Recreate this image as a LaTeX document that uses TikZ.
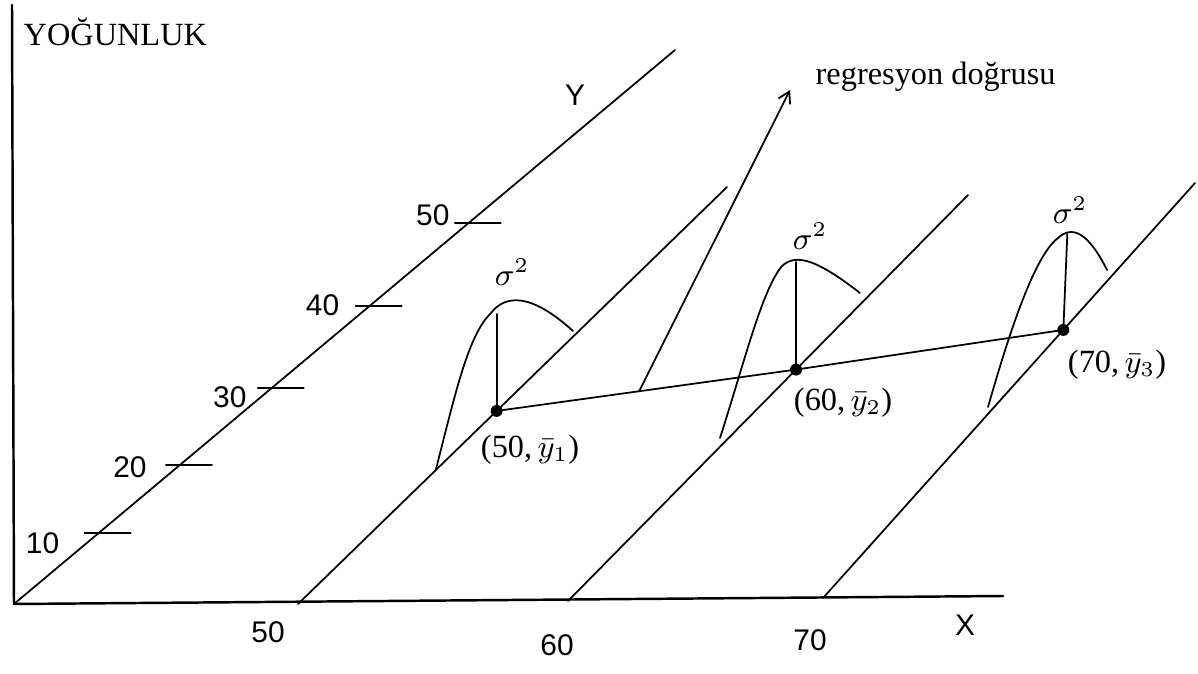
\documentclass[tikz,border=0pt]{standalone}
\usepackage{fontspec}
\setmainfont{Liberation Serif}
\setsansfont{Liberation Sans}
\usetikzlibrary{arrows.meta,calc}

\begin{document}
\begin{tikzpicture}[x=0.01cm, y=-0.01cm,
		line cap=round, line join=round,
		eksen/.style={line width=0.7pt},
		dogru/.style={line width=0.5pt},
		egri/.style={line width=0.5pt},
		sayi/.style={font=\sffamily\fontsize{8.5}{10}\selectfont, inner sep=0pt},
		lbl/.style={font=\fontsize{9.2}{11}\selectfont, inner sep=0pt}]

	\useasboundingbox (0,0) rectangle (1198,673);

	% ---- eksenler ----
	\coordinate (O)    at (14,604);
	\coordinate (Ust)  at (12,5);
	\coordinate (Xson) at (1003,596);
	\coordinate (Yson) at (675,50);
	\draw[eksen] (Ust) -- (O) -- (Xson);
	\draw[dogru] (O) -- (Yson);

	\node[lbl, anchor=west] (yogunluk) at (23,32) {YOĞUNLUK};
	\node[sayi] (ylbl) at (575,95)  {Y};
	\node[sayi] (xlbl) at (965,625) {X};

	% ---- Y ekseni üzerindeki çentikler ----
	\foreach \v/\t/\dx/\dy in {10/0.128/-56/10, 20/0.251/-50/2, 30/0.390/-42/9,
			40/0.538/-47/-1, 50/0.688/-36/-8}{
		\coordinate (T\v) at ($(O)!\t!(Yson)$);
		\draw[dogru] ($(T\v)+(-14,0)$) -- ($(T\v)+(32,0)$);
		\node[sayi] (t\v) at ($(T\v)+(\dx,\dy)$) {\v};
	}

	% ---- x = 50, 60, 70 doğruları ----
	\coordinate (A1) at (298,604); \coordinate (B1) at (727,187);
	\coordinate (A2) at (568,601); \coordinate (B2) at (968,195);
	\coordinate (A3) at (823,598); \coordinate (B3) at (1195,183);
	\draw[dogru] (A1) -- (B1);
	\draw[dogru] (A2) -- (B2);
	\draw[dogru] (A3) -- (B3);

	\node[sayi] (x50) at (268,632) {50};
	\node[sayi] (x60) at (557,645) {60};
	\node[sayi] (x70) at (810,640) {70};

	% ---- ortalama noktaları ----
	\coordinate (P1) at ($(A1)!0.463!(B1)$);
	\coordinate (P2) at ($(A2)!0.570!(B2)$);
	\coordinate (P3) at ($(A3)!0.646!(B3)$);

	% ---- dağılım eğrileri ----
	\coordinate (C1) at ($(A1)!0.321!(B1)$);
	\draw[egri] (C1) .. controls (455,395) and (468,335) .. (491,313)
		.. controls (505,295) and (530,292) .. (573,331);
	\draw[egri] (P1) -- (P1 |- 0,314);

	\draw[egri] (720,438) .. controls (745,360) and (762,290) .. (782,266)
		.. controls (797,252) and (820,262) .. (860,293);
	\draw[egri] (P2) -- (P2 |- 0,262);

	\draw[egri] (988,407) .. controls (1010,330) and (1035,255) .. (1058,238)
		.. controls (1072,225) and (1088,232) .. (1107,270);
	\draw[egri] (P3) -- ($(P3 |- 0,234)+(4,0)$);

	\node[lbl] (s1) at (512,272)  {$\sigma^2$};
	\node[lbl] (s2) at (810,236)  {$\sigma^2$};
	\node[lbl] (s3) at (1070,210) {$\sigma^2$};

	% ---- regresyon doğrusu ----
	\draw[dogru] (P1) -- (P2) -- (P3);
	\foreach \p in {P1,P2,P3}
	\fill (\p) circle[radius=1.7pt];

	\coordinate (R)  at ($(P1)!0.476!(P2)$);
	\coordinate (Uc) at (790,90);
	\draw[dogru, -{Straight Barb[length=1.1mm, width=1.3mm]}] (R) -- (Uc);
	\node[lbl, anchor=west] (reg) at (815,77) {regresyon doğrusu};

	\node[lbl] (p1lbl) at (530,450)  {(50,\,$\bar{y}_1$)};
	\node[lbl] (p2lbl) at (843,403)  {(60,\,$\bar{y}_2$)};
	\node[lbl] (p3lbl) at (1117,365) {(70,\,$\bar{y}_3$)};

\end{tikzpicture}
\end{document}
